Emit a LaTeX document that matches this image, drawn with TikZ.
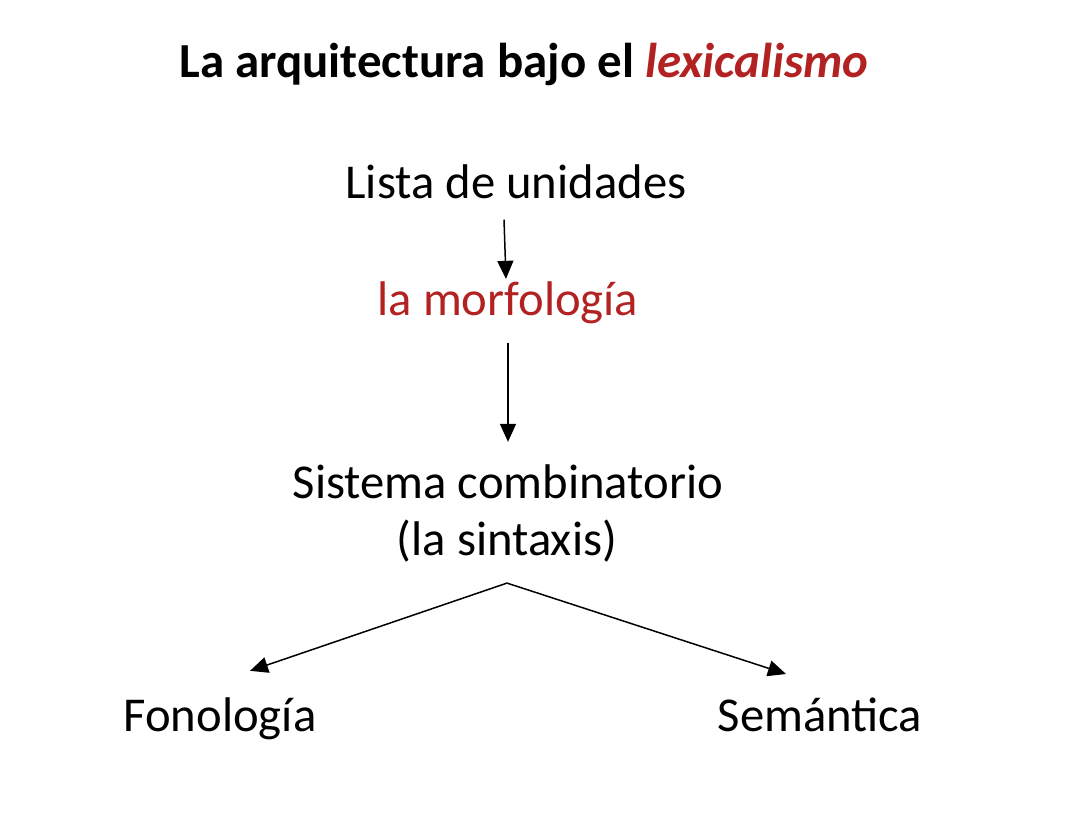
\documentclass[tikz,border=0pt]{standalone}
\usepackage{fontspec}
\setmainfont{Carlito}
\usetikzlibrary{arrows.meta}
\definecolor{lexred}{RGB}{178,34,34}
\tikzset{
  lbl/.style={anchor=base, inner sep=0pt, font=\fontsize{27.7pt}{32pt}\selectfont},
  arr/.style={-{Triangle[length=0.36cm,width=0.32cm]}, line width=0.85pt},
}
\begin{document}
\begin{tikzpicture}[x=0.02cm,y=-0.02cm]
\useasboundingbox (0,0) rectangle (1090,824);
% titulo
\node[lbl, font=\fontsize{27.85pt}{34pt}\selectfont\bfseries] (title) at (524,78)
  {La arquitectura bajo el \textcolor{lexred}{\itshape lexicalismo}};
% niveles
\node[lbl] (lista) at (516,199) {Lista de unidades};
\node[lbl, text=lexred] (morf) at (508,316) {la morfología};
\node[lbl] (sist) at (508,499) {Sistema combinatorio};
\node[lbl] (sint) at (507,556) {(la sintaxis)};
\node[lbl] (fon) at (220,731) {Fonología};
\node[lbl] (sem) at (820,731) {Semántica};
%\coordinate (split) at (507,582);
\coordinate (split) at ([yshift=-0.4cm]sint.south);
\draw[arr] ([xshift=-0.24cm,yshift=-0.4cm]lista.south) -- ([xshift=-0.04cm,yshift=0.06cm]morf.north);
\draw[arr] ([yshift=-0.36cm]morf.south) -- ([yshift=0.46cm]sist.north);
\draw[arr] (split) -- ([xshift=0.6cm,yshift=0.52cm]fon.north);
\draw[arr] (split) -- ([xshift=-0.68cm,yshift=0.46cm]sem.north);
\end{tikzpicture}
\end{document}
